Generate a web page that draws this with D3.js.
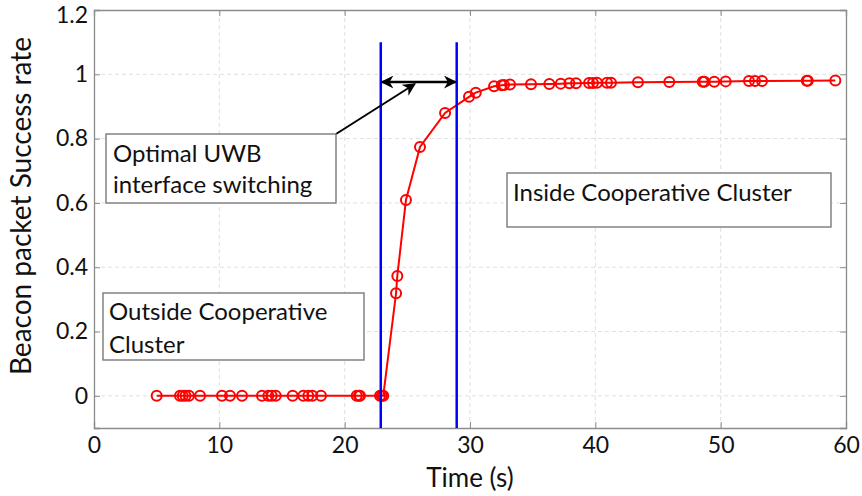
<!DOCTYPE html>
<html>
<head>
<meta charset="utf-8">
<script src="https://cdn.jsdelivr.net/npm/d3@7"></script>
<style>
  html, body { margin: 0; padding: 0; background: #fff; }
  svg { display: block; font-family: Lato, "Open Sans", sans-serif; }
</style>
</head>
<body>
<svg id="chart" width="862" height="496"></svg>
<script>
// Beacon packet success rate over time
const timeS = [
  5.0, 6.86, 7.08, 7.3, 7.58, 8.46, 10.21, 10.85, 11.81, 13.4, 13.91, 14.18, 14.5,
  15.85, 16.7, 17.1, 17.42, 18.11, 20.96, 21.14, 21.22, 22.82, 22.96, 23.08,
  24.1, 24.2, 24.89, 26.01, 28.01, 29.92, 30.46, 31.92, 32.53, 32.71, 33.19,
  34.87, 36.33, 37.24, 37.93, 38.46, 39.5, 39.81, 40.13, 40.93, 41.25, 43.4,
  45.9, 48.57, 48.7, 49.49, 50.4, 52.26, 52.74, 53.3, 56.87, 56.95, 59.15
];
const successRate = [
  0, 0, 0, 0, 0, 0, 0, 0, 0, 0, 0, 0, 0,
  0, 0, 0, 0, 0, 0, 0, 0, 0, 0, 0,
  0.319, 0.373, 0.609, 0.774, 0.88, 0.93, 0.943, 0.963, 0.966, 0.967, 0.968,
  0.969, 0.970, 0.971, 0.972, 0.972, 0.973, 0.973, 0.974, 0.974, 0.974, 0.975,
  0.976, 0.977, 0.977, 0.977, 0.978, 0.979, 0.979, 0.979, 0.980, 0.980, 0.981
];
const xTicks = [0, 10, 20, 30, 40, 50, 60];
const yTicks = [0, 0.2, 0.4, 0.6, 0.8, 1, 1.2];
const switchTimes = [22.88, 28.94];      // switching window bounds (s)
const markerSpan = [-0.1, 1.1];
const arrowLevel = 0.976;

const xDomain = [0, 60];
const yDomain = [-0.1, 1.2];

const svg = d3.select("#chart");
const margin = { left: 94, right: 16, top: 10, bottom: 68 };
const W = 862, H = 496;
const x = d3.scaleLinear().domain(xDomain).range([margin.left, W - margin.right]);
const y = d3.scaleLinear().domain(yDomain).range([H - margin.bottom, margin.top]);

const defs = svg.append("defs");
defs.append("marker")
  .attr("id", "head").attr("viewBox", "0 0 10 10")
  .attr("refX", 9).attr("refY", 5)
  .attr("markerWidth", 13).attr("markerHeight", 13)
  .attr("markerUnits", "userSpaceOnUse")
  .attr("orient", "auto-start-reverse")
  .append("path").attr("d", "M0,0 L10,5 L0,10 L3,5 Z").attr("fill", "#000");

// grid
const grid = svg.append("g").attr("stroke", "#e0e0e0").attr("stroke-width", 1)
  .attr("stroke-dasharray", "4,3");
grid.selectAll(".gx").data(xTicks.slice(1, -1)).join("line")
  .attr("x1", d => x(d)).attr("x2", d => x(d))
  .attr("y1", y.range()[0]).attr("y2", y.range()[1]);
grid.selectAll(".gy").data(yTicks.slice(0, -1)).join("line")
  .attr("y1", d => y(d)).attr("y2", d => y(d))
  .attr("x1", x.range()[0]).attr("x2", x.range()[1]);

// axes
const fmt = d3.format("~g");
svg.append("g").attr("transform", `translate(0,${y.range()[0]})`)
  .call(d3.axisBottom(x).tickValues(xTicks).tickFormat(fmt).tickSize(-6).tickPadding(9));
const yAxis = svg.append("g").attr("transform", `translate(${x.range()[0]},0)`)
  .call(d3.axisLeft(y).tickValues(yTicks).tickFormat(fmt).tickSize(-6).tickPadding(6));
svg.append("g").attr("transform", `translate(0,${y.range()[1]})`)
  .call(d3.axisTop(x).tickValues(xTicks).tickFormat("").tickSize(-6));
svg.append("g").attr("transform", `translate(${x.range()[1]},0)`)
  .call(d3.axisRight(y).tickValues(yTicks).tickFormat("").tickSize(-6));
svg.selectAll(".domain").attr("stroke", "#8c8c8c").attr("stroke-width", 1.3);
svg.selectAll(".tick line").attr("stroke", "#8c8c8c");
svg.selectAll(".tick text").attr("fill", "#111").attr("font-size", 23)
  .attr("font-family", "Lato, sans-serif");
// keep the topmost y label inside the frame
yAxis.selectAll(".tick text").filter(d => d === 1.2).attr("dy", "0.55em");

// axis titles
svg.append("text").attr("x", (x.range()[0] + x.range()[1]) / 2).attr("y", 487)
  .attr("text-anchor", "middle").attr("font-size", 26).attr("fill", "#111").text("Time (s)");
svg.append("text").attr("transform", `translate(31,206) rotate(-90)`)
  .attr("text-anchor", "middle").attr("font-size", 28).attr("fill", "#111")
  .text("Beacon packet Success rate");

// series line and markers
const pts = timeS.map((t, i) => [t, successRate[i]]);
svg.append("path").datum(pts)
  .attr("fill", "none").attr("stroke", "#ff0000").attr("stroke-width", 2)
  .attr("d", d3.line().x(d => x(d[0])).y(d => y(d[1])));
svg.append("g").selectAll("circle").data(pts).join("circle")
  .attr("cx", d => x(d[0])).attr("cy", d => y(d[1])).attr("r", 5)
  .attr("fill", "none").attr("stroke", "#ff0000").attr("stroke-width", 2);

// switching window
svg.append("g").selectAll("line").data(switchTimes).join("line")
  .attr("x1", d => x(d)).attr("x2", d => x(d))
  .attr("y1", y(markerSpan[0])).attr("y2", y(markerSpan[1]))
  .attr("stroke", "#0000ff").attr("stroke-width", 2.5);
svg.append("line")
  .attr("x1", x(switchTimes[0]) + 1).attr("x2", x(switchTimes[1]) - 1)
  .attr("y1", y(arrowLevel)).attr("y2", y(arrowLevel))
  .attr("stroke", "#000").attr("stroke-width", 2.4)
  .attr("marker-start", "url(#head)").attr("marker-end", "url(#head)");

// annotation boxes
function box(x0, y0, w, h, lines, lh, tx, ty) {
  svg.append("rect").attr("x", x0).attr("y", y0).attr("width", w).attr("height", h)
    .attr("fill", "#fff").attr("stroke", "#7a7a7a").attr("stroke-width", 1.4);
  const t = svg.append("text").attr("font-size", 24).attr("fill", "#111");
  lines.forEach((s, i) => t.append("tspan").attr("x", tx).attr("y", ty + i * lh).text(s));
}

// pointer from the note to the window arrow
svg.append("line").attr("x1", 336).attr("y1", 134)
  .attr("x2", x(25.6)).attr("y2", y(arrowLevel) + 2)
  .attr("stroke", "#000").attr("stroke-width", 2)
  .attr("marker-end", "url(#head)");

box(106, 134, 230, 69, ["Optimal UWB", "interface switching"], 31, 113, 162);
box(507, 173, 324, 54, ["Inside Cooperative Cluster"], 0, 513, 201);
box(103, 293, 261, 67, ["Outside Cooperative", "Cluster"], 32.5, 109, 320);
</script>
</body>
</html>
